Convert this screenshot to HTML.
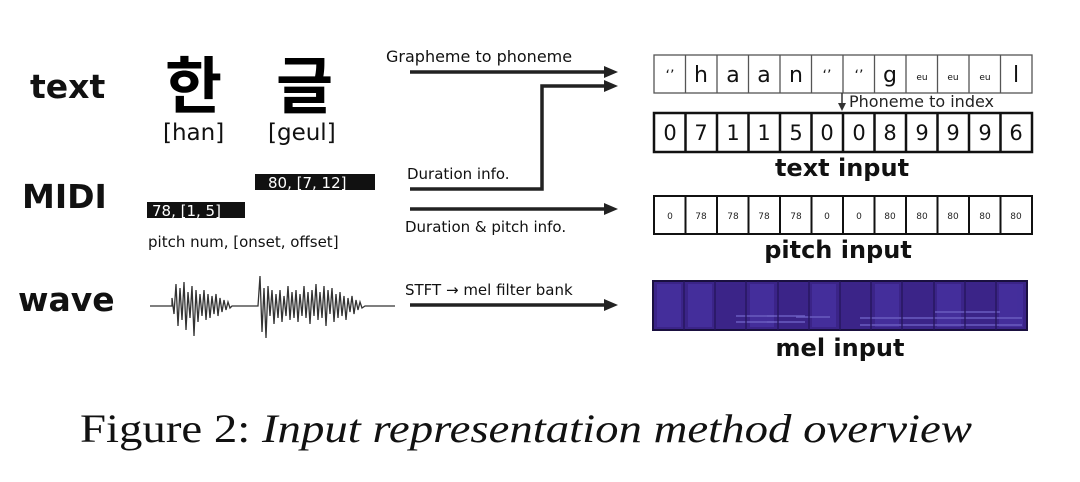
<!DOCTYPE html>
<html><head><meta charset="utf-8"><style>
html,body{margin:0;padding:0;background:#fff;}
svg{display:block;}
text{font-family:"DejaVu Sans","Liberation Sans",sans-serif;}
</style></head><body>
<svg width="1080" height="482" viewBox="0 0 1080 482" xmlns="http://www.w3.org/2000/svg">
<defs>
<marker id="ah" markerWidth="14" markerHeight="12" refX="2" refY="6" orient="auto" markerUnits="userSpaceOnUse" viewBox="0 0 14 12">
<path d="M0,0 L14,6 L0,12 z" fill="#222"/></marker>
</defs>
<text x="30" y="98" font-size="33" font-weight="bold" fill="#111">text</text>
<text x="165" y="108" font-size="62" font-weight="bold" fill="#000" style="font-family:'Noto Sans CJK KR','NanumGothic',sans-serif">한</text>
<text x="276" y="108" font-size="62" font-weight="bold" fill="#000" style="font-family:'Noto Sans CJK KR','NanumGothic',sans-serif">글</text>
<text x="163" y="140" font-size="23" fill="#111">[han]</text>
<text x="268" y="140" font-size="23" fill="#111">[geul]</text>
<text x="22" y="208" font-size="33" font-weight="bold" fill="#111">MIDI</text>
<rect x="255" y="174" width="120" height="16" fill="#111"/>
<text x="268" y="188" font-size="15" fill="#fff">80, [7, 12]</text>
<rect x="147" y="202" width="98" height="16" fill="#111"/>
<text x="152" y="216" font-size="15" fill="#fff">78, [1, 5]</text>
<text x="148" y="247" font-size="15" fill="#111">pitch num, [onset, offset]</text>
<text x="18" y="311" font-size="33" font-weight="bold" fill="#111">wave</text>
<polyline fill="none" stroke="#333" stroke-width="1.3" points="150,306 172,306 172,298 174,314 176,284 178,326 180,288 182,320 184,282 186,330 188,292 190,318 192,286 194,336 196,290 198,322 200,294 202,316 204,290 206,320 208,294 210,318 212,296 214,314 216,294 218,316 220,298 222,312 224,300 226,310 228,302 230,308 232,306 258,306 260,276 262,332 264,288 266,338 268,286 270,316 272,290 274,324 276,294 278,318 280,290 282,322 284,296 286,316 288,286 290,320 292,292 294,318 296,290 298,322 300,294 302,316 304,286 306,318 308,292 310,324 312,290 314,316 316,284 318,320 320,292 322,318 324,286 326,326 328,290 330,314 332,288 334,322 336,294 338,318 340,292 342,316 344,296 346,320 348,298 350,312 352,296 354,314 356,300 358,310 360,302 362,308 365,306 395,306"/>
<text x="386" y="62" font-size="16" fill="#111">Grapheme to phoneme</text>
<line x1="410" y1="72" x2="606" y2="72" stroke="#222" stroke-width="3.5" marker-end="url(#ah)"/>
<polyline points="410,189 542,189 542,86 606,86" fill="none" stroke="#222" stroke-width="3.5" marker-end="url(#ah)"/>
<text x="407" y="179" font-size="15" fill="#111">Duration info.</text>
<line x1="410" y1="209" x2="606" y2="209" stroke="#222" stroke-width="3.5" marker-end="url(#ah)"/>
<text x="405" y="232" font-size="15" fill="#111">Duration &amp; pitch info.</text>
<text x="405" y="295" font-size="15" fill="#111">STFT → mel filter bank</text>
<line x1="410" y1="305" x2="606" y2="305" stroke="#222" stroke-width="3.5" marker-end="url(#ah)"/>
<g stroke="#555" stroke-width="1.3" fill="#fff">
<rect x="654" y="55" width="378" height="38"/>
<line x1="685.5" y1="55" x2="685.5" y2="93"/><line x1="717" y1="55" x2="717" y2="93"/><line x1="748.5" y1="55" x2="748.5" y2="93"/><line x1="780" y1="55" x2="780" y2="93"/><line x1="811.5" y1="55" x2="811.5" y2="93"/><line x1="843" y1="55" x2="843" y2="93"/><line x1="874.5" y1="55" x2="874.5" y2="93"/><line x1="906" y1="55" x2="906" y2="93"/><line x1="937.5" y1="55" x2="937.5" y2="93"/><line x1="969" y1="55" x2="969" y2="93"/><line x1="1000.5" y1="55" x2="1000.5" y2="93"/>
</g>
<g font-size="22" fill="#111" text-anchor="middle">
<text x="670" y="80" font-size="14">‘’</text><text x="701" y="82">h</text><text x="733" y="82">a</text><text x="764" y="82">a</text><text x="796" y="82">n</text><text x="827" y="80" font-size="14">‘’</text><text x="859" y="80" font-size="14">‘’</text><text x="890" y="82">g</text><text x="922" y="80" font-size="9">eu</text><text x="953" y="80" font-size="9">eu</text><text x="985" y="80" font-size="9">eu</text><text x="1016" y="82">l</text>
</g>
<line x1="842" y1="93" x2="842" y2="104" stroke="#333" stroke-width="1.5"/>
<path d="M838,103 L846,103 L842,111 z" fill="#333"/>
<text x="849" y="107" font-size="16" fill="#222">Phoneme to index</text>
<g stroke="#111" stroke-width="2.5" fill="none">
<rect x="654" y="113" width="378" height="39"/>
<line x1="685.5" y1="113" x2="685.5" y2="152"/><line x1="717" y1="113" x2="717" y2="152"/><line x1="748.5" y1="113" x2="748.5" y2="152"/><line x1="780" y1="113" x2="780" y2="152"/><line x1="811.5" y1="113" x2="811.5" y2="152"/><line x1="843" y1="113" x2="843" y2="152"/><line x1="874.5" y1="113" x2="874.5" y2="152"/><line x1="906" y1="113" x2="906" y2="152"/><line x1="937.5" y1="113" x2="937.5" y2="152"/><line x1="969" y1="113" x2="969" y2="152"/><line x1="1000.5" y1="113" x2="1000.5" y2="152"/>
</g>
<g font-size="21" fill="#111" text-anchor="middle">
<text x="670" y="140">0</text><text x="701" y="140">7</text><text x="733" y="140">1</text><text x="764" y="140">1</text><text x="796" y="140">5</text><text x="827" y="140">0</text><text x="859" y="140">0</text><text x="890" y="140">8</text><text x="922" y="140">9</text><text x="953" y="140">9</text><text x="985" y="140">9</text><text x="1016" y="140">6</text>
</g>
<text x="842" y="176" font-size="24" font-weight="bold" fill="#111" text-anchor="middle">text input</text>
<g stroke="#111" stroke-width="2" fill="none">
<rect x="654" y="196" width="378" height="38"/>
<line x1="685.5" y1="196" x2="685.5" y2="234"/><line x1="717" y1="196" x2="717" y2="234"/><line x1="748.5" y1="196" x2="748.5" y2="234"/><line x1="780" y1="196" x2="780" y2="234"/><line x1="811.5" y1="196" x2="811.5" y2="234"/><line x1="843" y1="196" x2="843" y2="234"/><line x1="874.5" y1="196" x2="874.5" y2="234"/><line x1="906" y1="196" x2="906" y2="234"/><line x1="937.5" y1="196" x2="937.5" y2="234"/><line x1="969" y1="196" x2="969" y2="234"/><line x1="1000.5" y1="196" x2="1000.5" y2="234"/>
</g>
<g font-size="9" fill="#222" text-anchor="middle">
<text x="670" y="219">0</text><text x="701" y="219">78</text><text x="733" y="219">78</text><text x="764" y="219">78</text><text x="796" y="219">78</text><text x="827" y="219">0</text><text x="859" y="219">0</text><text x="890" y="219">80</text><text x="922" y="219">80</text><text x="953" y="219">80</text><text x="985" y="219">80</text><text x="1016" y="219">80</text>
</g>
<text x="838" y="258" font-size="24" font-weight="bold" fill="#111" text-anchor="middle">pitch input</text>
<rect x="653" y="281" width="374" height="49" fill="#3b2488" stroke="#1a1040" stroke-width="2"/>
<g fill="#4a36a8" opacity="0.6">
<rect x="657" y="284" width="24" height="43"/><rect x="688" y="284" width="24" height="43"/><rect x="750" y="284" width="24" height="43"/><rect x="812" y="284" width="24" height="43"/><rect x="875" y="284" width="24" height="43"/><rect x="937" y="284" width="24" height="43"/><rect x="999" y="284" width="24" height="43"/>
</g>
<g stroke="#6a5cc0" stroke-width="1.5">
<line x1="736" y1="316" x2="774" y2="316"/><line x1="736" y1="322" x2="774" y2="322"/>
<line x1="767" y1="316" x2="805" y2="316"/><line x1="767" y1="322" x2="805" y2="322"/>
<line x1="796" y1="317" x2="830" y2="317"/>
<line x1="860" y1="318" x2="1022" y2="318"/><line x1="860" y1="325" x2="1022" y2="325"/>
<line x1="935" y1="312" x2="1000" y2="312"/>
</g>
<g stroke="#24145a" stroke-width="1.3">
<line x1="684" y1="281" x2="684" y2="330"/><line x1="715" y1="281" x2="715" y2="330"/><line x1="746" y1="281" x2="746" y2="330"/><line x1="778" y1="281" x2="778" y2="330"/><line x1="809" y1="281" x2="809" y2="330"/><line x1="840" y1="281" x2="840" y2="330"/><line x1="871" y1="281" x2="871" y2="330"/><line x1="902" y1="281" x2="902" y2="330"/><line x1="934" y1="281" x2="934" y2="330"/><line x1="965" y1="281" x2="965" y2="330"/><line x1="996" y1="281" x2="996" y2="330"/>
</g>
<text x="840" y="356" font-size="24" font-weight="bold" fill="#111" text-anchor="middle">mel input</text>
<text x="80" y="442" font-size="40" fill="#111" style="font-family:'Liberation Serif',serif" textLength="892" lengthAdjust="spacingAndGlyphs">Figure 2: <tspan font-style="italic">Input representation method overview</tspan></text>
</svg>
</body></html>
